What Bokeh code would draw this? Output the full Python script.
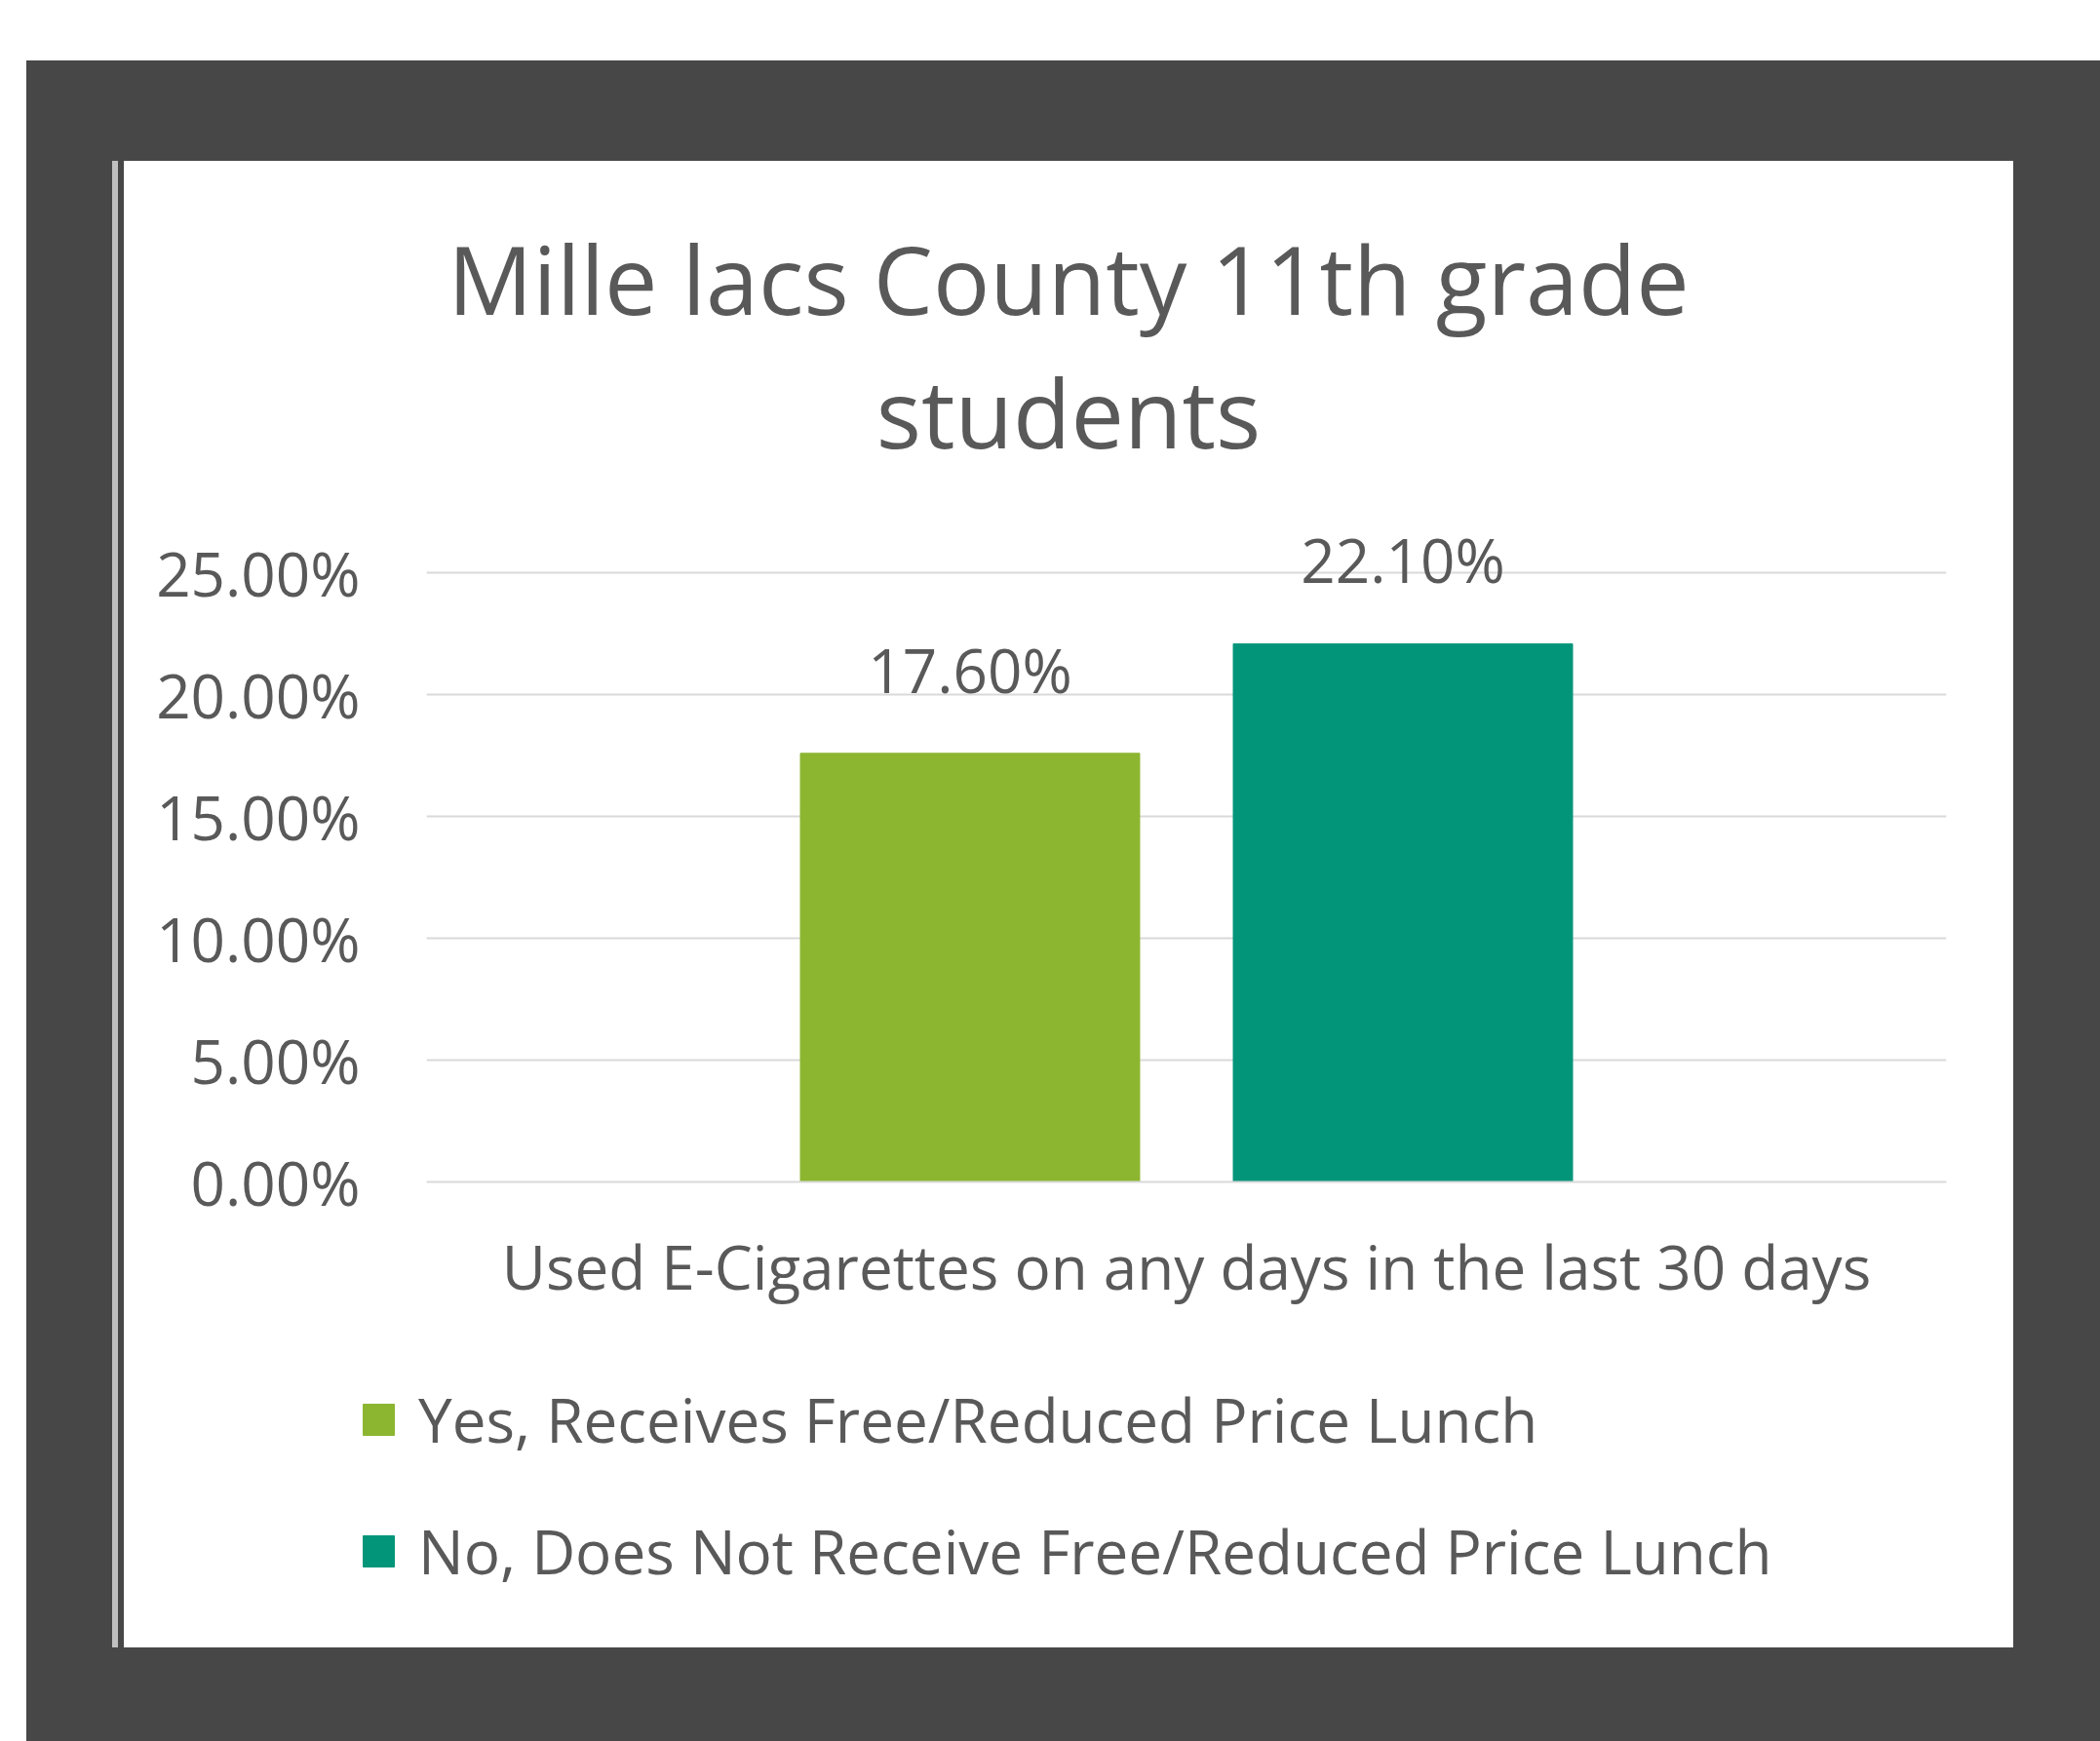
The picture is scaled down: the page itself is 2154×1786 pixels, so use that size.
from bokeh.plotting import figure
from bokeh.models import (ColumnDataSource, FactorRange, Range1d, FixedTicker,
                          NumeralTickFormatter, LabelSet, Legend, LegendItem, Div)
from bokeh.layouts import column, row
from bokeh.transform import dodge
from bokeh.embed import file_html
from bokeh.resources import INLINE
from bokeh.core.properties import value

# ---- data ----
title_lines = ["Mille lacs County 11th grade", "students"]
category = "Used E-Cigarettes on any days in the last 30 days"
series_names = ["Yes, Receives Free/Reduced Price Lunch",
                "No, Does Not Receive Free/Reduced Price Lunch"]
series_values = [0.176, 0.221]
series_colors = ["#8CB630", "#03957A"]
y_ticks = [0.0, 0.05, 0.10, 0.15, 0.20, 0.25]

FONT = "Open Sans"
TXT = "#595959"

PANEL_W = 1938
TITLE_H = 335
FIG_H = 890
LEG_H = 300

white_styles = {"background-color": "white",
                "box-shadow": "-6px 0 0 0 #474747, -12px 0 0 0 #c0c0c0"}

title_div = Div(
    text=('<div style="font-family:\'Open Sans\';font-size:97px;line-height:137px;'
          'color:#595959;text-align:center;padding-top:52px;width:%dpx">%s</div>'
          % (PANEL_W, "<br>".join(title_lines))),
    width=PANEL_W, height=TITLE_H, margin=0, styles=dict(white_styles))

p = figure(width=PANEL_W, height=FIG_H,
           x_range=FactorRange(factors=[category], range_padding=0),
           y_range=Range1d(0, 0.273),
           output_backend="svg", toolbar_location=None,
           min_border_left=310, min_border_right=69,
           min_border_top=30, min_border_bottom=178, margin=0,
           styles=dict(white_styles))
p.border_fill_color = "white"
p.background_fill_color = "white"
p.outline_line_color = None

# bars
offsets = [-0.1424, 0.1424]
for name, val, col, off in zip(series_names, series_values, series_colors, offsets):
    src = ColumnDataSource(dict(cat=[category], val=[val], lbl=[f"{val:.2%}"]))
    xd = dodge("cat", off, range=p.x_range)
    p.vbar(x=xd, top="val", width=0.2232, source=src,
           fill_color=col, line_color=col)
    p.add_layout(LabelSet(x=xd, y="val", text="lbl", source=src,
                          text_align="center", text_baseline="alphabetic",
                          y_offset=62, text_font=value(FONT),
                          text_font_size="62px", text_color=TXT))

# axes
p.yaxis.ticker = FixedTicker(ticks=y_ticks)
p.yaxis.formatter = NumeralTickFormatter(format="0.00%")
p.yaxis.axis_line_color = None
p.yaxis.major_tick_line_color = None
p.yaxis.minor_tick_line_color = None
p.yaxis.major_label_standoff = 62
p.yaxis.major_label_text_font = FONT
p.yaxis.major_label_text_font_size = "62px"
p.yaxis.major_label_text_color = TXT

p.xaxis.axis_line_color = "#d9d9d9"
p.xaxis.axis_line_width = 2
p.xaxis.major_tick_line_color = None
p.xaxis.minor_tick_line_color = None
p.xaxis.major_label_standoff = 38
p.xaxis.major_label_text_font = FONT
p.xaxis.major_label_text_font_size = "62px"
p.xaxis.major_label_text_color = TXT

p.xgrid.visible = False
p.ygrid.grid_line_color = "#d9d9d9"
p.ygrid.grid_line_width = 2

# legend strip (legend keys for the two series; key renderers are hidden)
lf = figure(width=PANEL_W, height=LEG_H, x_range=Range1d(0, 1), y_range=Range1d(0, 1),
            x_axis_type=None, y_axis_type=None, output_backend="svg",
            toolbar_location=None, min_border=0, margin=0,
            styles=dict(white_styles))
lf.border_fill_color = "white"
lf.background_fill_color = "white"
lf.outline_line_color = None
lf.grid.visible = False
items = []
for name, val, col in zip(series_names, series_values, series_colors):
    r = lf.vbar(x=[0.5], top=[val], width=0.1, fill_color=col, line_color=col,
                visible=False)
    items.append(LegendItem(label=name, renderers=[r]))
legend = Legend(items=items, location=(241, 57), orientation="vertical",
                glyph_width=40, glyph_height=40, label_standoff=21,
                label_text_font=FONT, label_text_font_size="62px",
                label_text_color=TXT, label_height=40, spacing=51,
                padding=0, margin=0, border_line_color=None,
                background_fill_alpha=0, inactive_fill_alpha=0)
lf.add_layout(legend, "center")

page = column(title_div, p, row(lf, margin=0, spacing=0),
              margin=(62, 0, 0, 27), spacing=0,
              styles={"background-color": "#474747",
                      "padding": "103px 89px 96px 100px"})

open("out.html", "w").write(file_html(page, INLINE))
